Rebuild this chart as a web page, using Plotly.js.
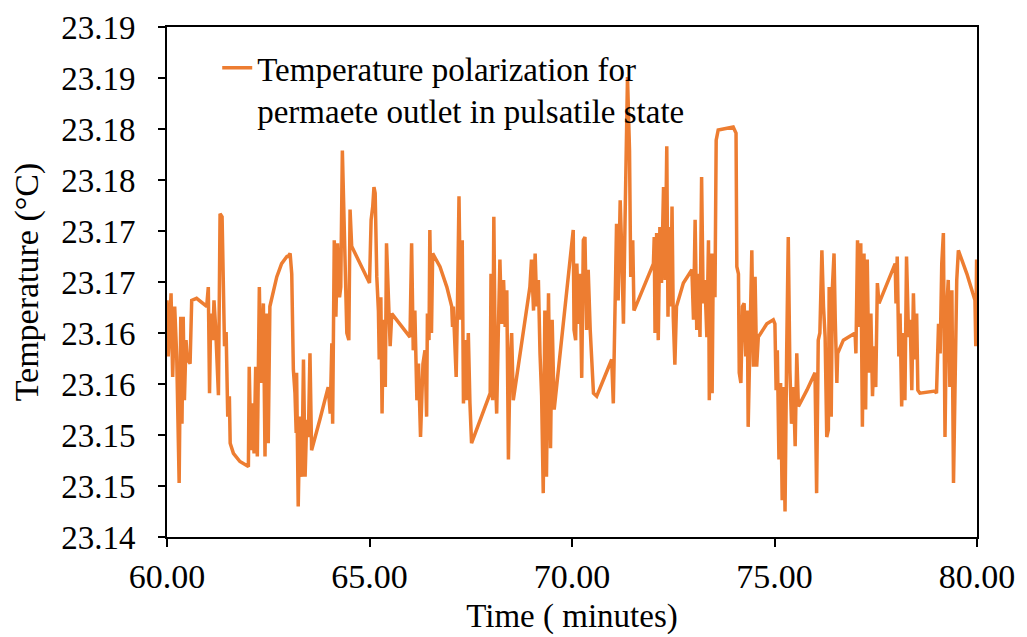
<!DOCTYPE html>
<html>
<head>
<meta charset="utf-8">
<script src="https://cdn.plot.ly/plotly-3.0.1.min.js"></script>
<style>html,body{margin:0;padding:0;background:#fff;}#chart{width:1027px;height:637px;}</style>
</head>
<body>
<div id="chart"></div>
<script>
const time = [
60.00,60.03,60.10,60.14,60.19,60.24,60.30,60.34,60.37,60.40,60.43,60.47,60.50,60.57,60.61,60.73,60.98,61.02,61.05,61.08,
61.13,61.16,61.20,61.27,61.31,61.36,61.42,61.46,61.50,61.54,61.56,61.64,61.80,62.01,62.03,62.07,62.10,62.15,62.19,62.23,
62.28,62.32,62.38,62.42,62.46,62.50,62.54,62.71,62.83,62.96,62.99,63.04,63.08,63.12,63.16,63.19,63.20,63.24,63.28,63.33,
63.37,63.41,63.45,63.49,63.53,63.57,63.78,63.98,64.03,64.07,64.09,64.13,64.17,64.21,64.26,64.29,64.33,64.37,64.44,64.49,
64.52,64.56,65.00,65.04,65.08,65.11,65.14,65.18,65.22,65.24,65.28,65.31,65.34,65.39,65.42,65.47,65.51,65.55,66.00,66.04,
66.08,66.12,66.17,66.21,66.26,66.32,66.37,66.41,66.43,66.47,66.49,66.53,66.56,66.74,66.91,67.03,67.05,67.07,67.10,67.14,
67.17,67.21,67.25,67.29,67.32,67.36,67.40,67.44,67.48,67.52,67.98,68.00,68.04,68.07,68.11,68.14,68.18,68.22,68.26,68.31,
68.35,68.39,68.43,68.47,68.51,68.55,68.96,69.00,69.05,69.09,69.13,69.17,69.21,69.25,69.29,69.33,69.37,69.42,69.47,69.51,
69.56,70.03,70.05,70.09,70.12,70.16,70.20,70.24,70.28,70.32,70.36,70.40,70.45,70.49,70.53,70.61,70.77,70.98,71.02,71.06,
71.10,71.14,71.19,71.23,71.27,71.31,71.37,71.42,71.45,71.50,71.53,72.01,72.03,72.05,72.09,72.13,72.17,72.21,72.26,72.30,
72.34,72.37,72.40,72.44,72.47,72.50,72.54,72.58,72.75,72.96,73.00,73.04,73.08,73.12,73.16,73.20,73.24,73.28,73.33,73.37,
73.39,73.43,73.46,73.49,73.53,73.56,73.61,73.98,74.05,74.07,74.11,74.13,74.17,74.21,74.25,74.29,74.33,74.35,74.40,74.44,
74.48,74.52,74.56,74.60,74.81,74.97,75.01,75.04,75.07,75.11,75.15,75.19,75.22,75.26,75.30,75.34,75.38,75.42,75.47,75.51,
75.55,75.59,75.80,76.00,76.04,76.08,76.12,76.17,76.21,76.25,76.29,76.33,76.35,76.40,76.43,76.47,76.50,76.54,76.56,76.70,
76.99,77.01,77.05,77.09,77.13,77.17,77.21,77.25,77.29,77.33,77.38,77.42,77.46,77.50,77.54,77.58,77.98,78.00,78.03,78.07,
78.10,78.14,78.18,78.22,78.26,78.31,78.35,78.39,78.43,78.47,78.51,78.54,78.59,78.96,79.00,79.05,79.09,79.13,79.17,79.21,
79.25,79.29,79.33,79.38,79.42,79.46,79.50,79.54,79.75,79.95,79.97,79.99,80.00
];
const temperature = [
23.1632,23.1577,23.1639,23.1557,23.1626,23.1577,23.1453,23.1616,23.1511,23.1616,23.1534,23.1593,23.1574,23.1570,23.1632,23.1634,23.1626,23.1645,23.1541,23.1619,
23.1593,23.1632,23.1606,23.1539,23.1717,23.1714,23.1587,23.1601,23.1518,23.1538,23.1492,23.1482,23.1474,23.1469,23.1567,23.1485,23.1531,23.1482,23.1567,23.1479,
23.1645,23.1551,23.1629,23.1479,23.1619,23.1492,23.1626,23.1655,23.1668,23.1675,23.1675,23.1678,23.1658,23.1564,23.1541,23.1502,23.1561,23.1430,23.1518,23.1459,
23.1574,23.1459,23.1515,23.1498,23.1580,23.1485,23.1516,23.1547,23.1521,23.1590,23.1511,23.1691,23.1616,23.1688,23.1635,23.1645,23.1779,23.1714,23.1600,23.1593,
23.1721,23.1685,23.1649,23.1711,23.1724,23.1743,23.1737,23.1655,23.1622,23.1574,23.1635,23.1521,23.1613,23.1547,23.1688,23.1632,23.1587,23.1619,23.1596,23.1688,
23.1583,23.1622,23.1534,23.1570,23.1498,23.1570,23.1583,23.1518,23.1619,23.1593,23.1701,23.1600,23.1678,23.1665,23.1645,23.1626,23.1606,23.1626,23.1587,23.1557,
23.1622,23.1734,23.1613,23.1691,23.1531,23.1593,23.1534,23.1600,23.1531,23.1492,23.1541,23.1658,23.1534,23.1714,23.1557,23.1521,23.1600,23.1672,23.1609,23.1652,
23.1606,23.1642,23.1476,23.1570,23.1600,23.1534,23.1645,23.1672,23.1622,23.1678,23.1626,23.1652,23.1580,23.1538,23.1443,23.1622,23.1459,23.1639,23.1487,23.1613,
23.1525,23.1701,23.1603,23.1593,23.1668,23.1609,23.1658,23.1556,23.1691,23.1694,23.1603,23.1662,23.1603,23.1570,23.1541,23.1538,23.1554,23.1574,23.1531,23.1616,
23.1707,23.1632,23.1730,23.1678,23.1609,23.1711,23.1851,23.1779,23.1655,23.1691,23.1622,23.1668,23.1694,23.1600,23.1698,23.1593,23.1704,23.1649,23.1743,23.1652,
23.1783,23.1616,23.1704,23.1626,23.1724,23.1616,23.1569,23.1626,23.1649,23.1662,23.1613,23.1711,23.1603,23.1658,23.1596,23.1753,23.1629,23.1652,23.1596,23.1691,
23.1534,23.1678,23.1541,23.1678,23.1635,23.1789,23.1799,23.1802,23.1796,23.1665,23.1658,23.1561,23.1551,23.1626,23.1629,23.1577,23.1622,23.1508,23.1593,23.1681,
23.1567,23.1655,23.1567,23.1596,23.1609,23.1613,23.1609,23.1544,23.1583,23.1476,23.1551,23.1436,23.1547,23.1425,23.1580,23.1694,23.1564,23.1511,23.1547,23.1489,
23.1580,23.1528,23.1544,23.1561,23.1443,23.1593,23.1600,23.1681,23.1626,23.1596,23.1498,23.1505,23.1645,23.1518,23.1645,23.1678,23.1613,23.1551,23.1580,23.1593,
23.1600,23.1580,23.1691,23.1606,23.1688,23.1508,23.1678,23.1525,23.1672,23.1561,23.1619,23.1538,23.1587,23.1547,23.1649,23.1629,23.1668,23.1629,23.1675,23.1577,
23.1619,23.1528,23.1600,23.1534,23.1675,23.1596,23.1613,23.1544,23.1639,23.1574,23.1619,23.1544,23.1541,23.1543,23.1541,23.1609,23.1580,23.1668,23.1698,23.1498,
23.1622,23.1652,23.1547,23.1642,23.1453,23.1547,23.1652,23.1681,23.1658,23.1632,23.1587,23.1672,23.1593
];
const xTickVals = [60, 65, 70, 75, 80];
const xTickText = ["60.00", "65.00", "70.00", "75.00", "80.00"];
const yTickVals = [23.140, 23.145, 23.150, 23.155, 23.160, 23.165, 23.170, 23.175, 23.180, 23.185, 23.190];
const yTickText = ["23.14", "23.15", "23.15", "23.16", "23.16", "23.17", "23.17", "23.18", "23.18", "23.19", "23.19"];
const seriesName = "Temperature polarization for<br>permaete outlet in pulsatile state";

const FONT = "Liberation Serif, Times New Roman, serif";

const trace = {
  x: time,
  y: temperature,
  type: "scatter",
  mode: "lines",
  name: seriesName,
  line: { color: "#ED7D31", width: 3.5 }
};

const axisCommon = {
  showline: true,
  linecolor: "#000",
  linewidth: 2,
  mirror: true,
  ticks: "outside",
  tickcolor: "#000",
  tickwidth: 2,
  showgrid: false,
  zeroline: false
};

const layout = {
  width: 1027,
  height: 637,
  margin: { l: 167, r: 50, t: 27, b: 100 },
  paper_bgcolor: "#fff",
  plot_bgcolor: "#fff",
  font: { family: FONT, size: 33, color: "#000" },
  showlegend: true,
  legend: {
    x: 0.062, y: 0.975, xanchor: "left", yanchor: "top",
    bgcolor: "rgba(0,0,0,0)",
    valign: "top",
    font: { family: FONT, size: 33, color: "#000" }
  },
  xaxis: Object.assign({}, axisCommon, {
    range: [60, 80],
    tickvals: xTickVals,
    ticktext: xTickText,
    ticklen: 8,
    tickfont: { family: FONT, size: 34, color: "#000" },
    title: { text: "Time ( minutes)", font: { family: FONT, size: 33, color: "#000" }, standoff: 10 }
  }),
  yaxis: Object.assign({}, axisCommon, {
    range: [23.14, 23.19],
    tickvals: yTickVals,
    ticktext: yTickText,
    ticklen: 7,
    ticklabelstandoff: 16,
    tickfont: { family: FONT, size: 33, color: "#000" },
    title: { text: "Temperature (°C)", font: { family: FONT, size: 34, color: "#000" }, standoff: 12 }
  })
};

Plotly.newPlot("chart", [trace], layout, { displayModeBar: false, staticPlot: true });
</script>
</body>
</html>
